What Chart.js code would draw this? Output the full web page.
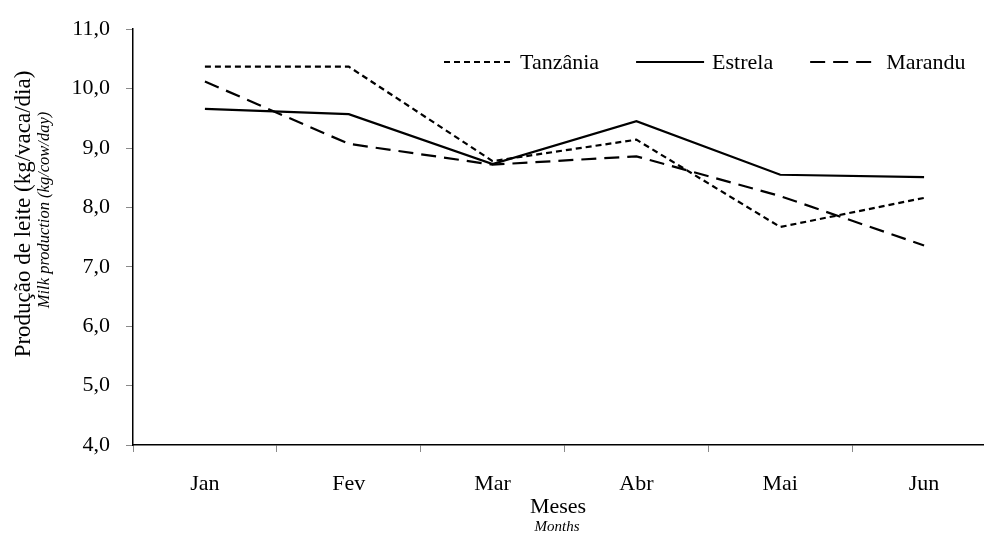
<!DOCTYPE html>
<html>
<head>
<meta charset="utf-8">
<script src="https://cdn.jsdelivr.net/npm/chart.js@4"></script>
<style>
  html, body { margin: 0; padding: 0; background: #fff; overflow: hidden; }
  #wrap { width: 996px; height: 534px; }
</style>
</head>
<body>
<div id="wrap"><canvas id="myChart" width="996" height="534"></canvas></div>
<script>
// data
const months = ['Jan', 'Fev', 'Mar', 'Abr', 'Mai', 'Jun'];
const tanzania = [10.37, 10.37, 8.78, 9.14, 7.67, 8.16];
const estrela = [9.66, 9.57, 8.73, 9.45, 8.55, 8.51];
const marandu = [10.12, 9.07, 8.72, 8.86, 8.19, 7.36];
const yMin = 4, yMax = 11, yStep = 1;

const serif = '"Liberation Serif", "Times New Roman", serif';

// axis titles + legend drawn on the canvas
const extras = {
  id: 'extras',
  afterDraw(chart) {
    const ctx = chart.ctx;
    ctx.save();
    ctx.fillStyle = '#000';

    // y titles
    ctx.save();
    ctx.translate(24, 214);
    ctx.rotate(-Math.PI / 2);
    ctx.textAlign = 'center';
    ctx.textBaseline = 'middle';
    ctx.font = '23px ' + serif;
    ctx.fillText('Produção de leite (kg/vaca/dia)', 0, 0);
    ctx.restore();

    ctx.save();
    ctx.translate(45, 210);
    ctx.rotate(-Math.PI / 2);
    ctx.textAlign = 'center';
    ctx.textBaseline = 'middle';
    ctx.font = 'italic 16.5px ' + serif;
    ctx.fillText('Milk production (kg/cow/day)', 0, 0);
    ctx.restore();

    // x titles
    ctx.textAlign = 'center';
    ctx.textBaseline = 'middle';
    ctx.font = '22px ' + serif;
    ctx.fillText('Meses', 558, 507);
    ctx.font = 'italic 15px ' + serif;
    ctx.fillText('Months', 557, 527);

    // legend
    let x = 444;
    const y = 62;
    ctx.font = '22px ' + serif;
    ctx.textAlign = 'left';
    chart.data.datasets.forEach(function (ds) {
      ctx.beginPath();
      ctx.lineWidth = ds.borderWidth;
      ctx.strokeStyle = ds.borderColor;
      ctx.setLineDash(ds.borderDash || []);
      ctx.moveTo(x, y);
      ctx.lineTo(x + 68, y);
      ctx.stroke();
      ctx.setLineDash([]);
      ctx.fillText(ds.label, x + 76, y + 1);
      x += 76 + ctx.measureText(ds.label).width + 37;
    });
    ctx.restore();
  }
};

const config = {
  type: 'line',
  data: {
    labels: months,
    datasets: [
      { label: 'Tanzânia', data: tanzania, borderColor: '#000', borderWidth: 2.2, borderDash: [6, 4] },
      { label: 'Estrela', data: estrela, borderColor: '#000', borderWidth: 2.2, borderDash: [] },
      { label: 'Marandu', data: marandu, borderColor: '#000', borderWidth: 2.2, borderDash: [15, 8] }
    ]
  },
  options: {
    responsive: false,
    animation: false,
    layout: { padding: { top: 24, right: 0, bottom: 0, left: 0 } },
    elements: {
      point: { radius: 0, hoverRadius: 0 },
      line: { tension: 0, fill: false }
    },
    plugins: {
      legend: { display: false },
      tooltip: { enabled: false }
    },
    scales: {
      x: {
        offset: true,
        afterFit: function (scale) { scale.height = 89; },
        grid: { offset: true, drawOnChartArea: false, drawTicks: true, tickLength: 7, tickColor: '#8a8a8a' },
        border: { display: true, color: '#000', width: 1.5 },
        ticks: { color: '#000', padding: 19, font: { family: serif, size: 22 }, maxRotation: 0 }
      },
      y: {
        min: yMin,
        max: yMax,
        afterFit: function (scale) { scale.width = 133; },
        grid: { drawOnChartArea: false, drawTicks: true, tickLength: 7, tickColor: '#8a8a8a' },
        border: { display: true, color: '#000', width: 1.5 },
        ticks: {
          stepSize: yStep,
          color: '#000',
          padding: 16,
          font: { family: serif, size: 22 },
          callback: function (v) { return v.toFixed(1).replace('.', ','); }
        }
      }
    }
  },
  plugins: [extras]
};

const myChart = new Chart(document.getElementById('myChart'), config);
</script>
</body>
</html>
